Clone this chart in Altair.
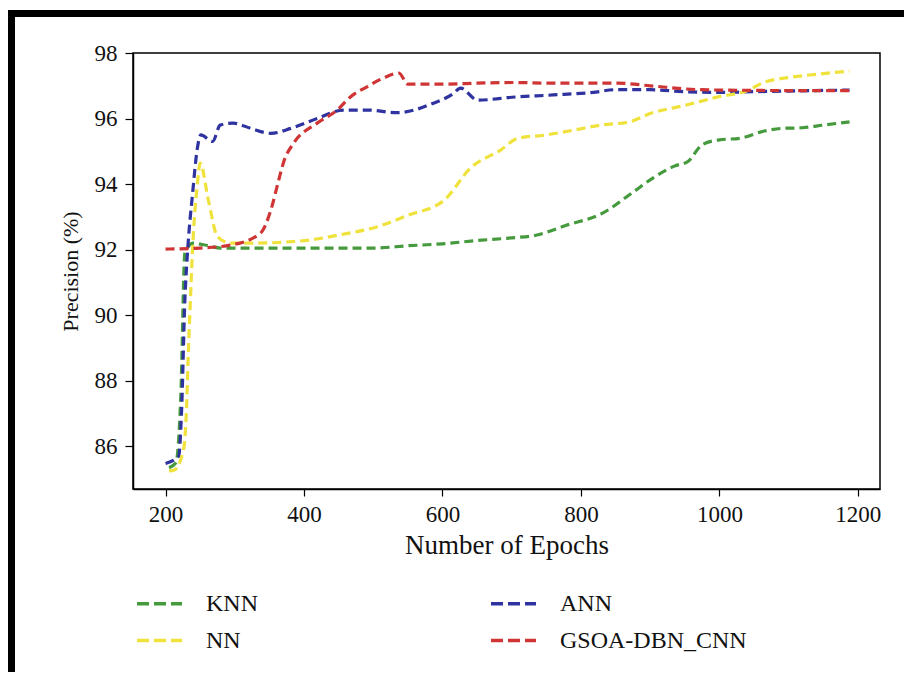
import altair as alt
import pandas as pd

# ---- data ----
knn_x = [205, 215, 222, 228, 240, 255, 280, 300, 350, 400, 450, 500, 550, 600, 650, 700, 735, 780, 830, 875, 905, 935, 955, 975, 1000, 1030, 1065, 1090, 1120, 1150, 1188]
knn_y = [85.35, 85.5, 87.5, 91.9, 92.2, 92.15, 92.05, 92.05, 92.05, 92.05, 92.05, 92.05, 92.12, 92.18, 92.28, 92.36, 92.44, 92.75, 93.1, 93.75, 94.2, 94.55, 94.7, 95.2, 95.35, 95.4, 95.62, 95.7, 95.72, 95.8, 95.9]

ann_x = [200, 219, 223, 228, 232, 239, 246, 251, 268, 279, 298, 323, 352, 381, 419, 457, 491, 535, 587, 615, 626, 651, 700, 760, 818, 850, 900, 950, 1000, 1050, 1100, 1188]
ann_y = [85.48, 85.7, 87.0, 90.5, 92.0, 93.7, 95.1, 95.5, 95.3, 95.8, 95.86, 95.7, 95.55, 95.7, 96.0, 96.26, 96.26, 96.18, 96.47, 96.75, 96.93, 96.56, 96.65, 96.72, 96.8, 96.88, 96.88, 96.82, 96.8, 96.82, 96.84, 96.87]

nn_x = [205, 212, 226, 230, 233, 236, 239, 246, 250, 262, 275, 294, 330, 371, 410, 448, 506, 550, 602, 641, 684, 709, 750, 790, 829, 870, 901, 950, 998, 1040, 1064, 1100, 1140, 1188]
nn_y = [85.25, 85.27, 85.9, 87.0, 88.9, 90.5, 92.0, 94.0, 94.64, 93.5, 92.4, 92.2, 92.2, 92.23, 92.3, 92.44, 92.7, 93.05, 93.5, 94.5, 95.04, 95.4, 95.5, 95.65, 95.8, 95.9, 96.16, 96.4, 96.66, 96.85, 97.1, 97.25, 97.35, 97.45]

gsoa_x = [200, 250, 294, 337, 352, 362, 371, 385, 419, 448, 467, 491, 515, 537, 550, 600, 650, 700, 760, 853, 900, 973, 1050, 1120, 1188]
gsoa_y = [92.02, 92.05, 92.14, 92.5, 93.2, 94.0, 94.7, 95.25, 95.86, 96.26, 96.66, 96.97, 97.24, 97.39, 97.05, 97.05, 97.08, 97.1, 97.08, 97.08, 97.0, 96.88, 96.86, 96.85, 96.85]

# legend is laid out column by column: KNN, NN | ANN, GSOA-DBN_CNN
series = ["KNN", "NN", "ANN", "GSOA-DBN_CNN"]
colors = ["#449a3c", "#f0e23c", "#2f33a0", "#cf3535"]
x_ticks = [200, 400, 600, 800, 1000, 1200]
y_ticks = [86, 88, 90, 92, 94, 96, 98]

rows = []
for name, xs, ys in [("KNN", knn_x, knn_y), ("ANN", ann_x, ann_y),
                     ("NN", nn_x, nn_y), ("GSOA-DBN_CNN", gsoa_x, gsoa_y)]:
    for i, (a, b) in enumerate(zip(xs, ys)):
        rows.append({"Model": name, "Epochs": a, "Precision": b, "order": i})
df = pd.DataFrame(rows)

FONT = "Liberation Serif"

lines = alt.Chart(df).mark_line(strokeWidth=3.2, strokeDash=[9, 5], interpolate="monotone").encode(
    x=alt.X("Epochs:Q", scale=alt.Scale(domain=[153, 1232], nice=False, zero=False),
            axis=alt.Axis(values=x_ticks, format="d", title="Number of Epochs", grid=False,
                          tickSize=7, labelPadding=7, titlePadding=6,
                          labelFontSize=23, titleFontSize=27)),
    y=alt.Y("Precision:Q", scale=alt.Scale(domain=[84.7, 98], nice=False, zero=False),
            axis=alt.Axis(values=y_ticks, title="Precision (%)", grid=False,
                          tickSize=8, labelPadding=8, titlePadding=12,
                          labelFontSize=23, titleFontSize=22)),
    color=alt.Color("Model:N", scale=alt.Scale(domain=series, range=colors),
                    legend=alt.Legend(orient="none", legendX=2, legendY=526, title=None,
                                      columns=2, columnPadding=226, rowPadding=-9,
                                      symbolType="stroke", symbolSize=2025,
                                      symbolStrokeWidth=3.5, symbolDash=[12, 5],
                                      labelFont=FONT, labelFontSize=24, labelOffset=22,
                                      labelLimit=400,
                                      labelColor="#111111", padding=0)),
    order="order:Q",
    detail="Model:N",
)

top_border = alt.Chart().mark_rule(color="black", strokeWidth=7).encode(
    x=alt.value(-126), x2=alt.value(790), y=alt.value(-39.5))
left_border = alt.Chart().mark_rule(color="black", strokeWidth=7).encode(
    x=alt.value(-121.5), y=alt.value(-43), y2=alt.value(640))

chart = alt.layer(lines, top_border, left_border).properties(
    width=747, height=436,
    autosize=alt.AutoSizeParams(type="none"),
    padding={"left": 125, "top": 45, "right": 24, "bottom": 183},
    background="white",
).configure_view(stroke="black", strokeWidth=1.5).configure_axis(
    labelFont=FONT, titleFont=FONT, titleFontWeight="normal",
    domainColor="black", tickColor="black", labelColor="#111111", titleColor="#111111",
    domainWidth=1.5, tickWidth=1.2,
)

chart.save("out.html", embed_options={"renderer": "svg", "actions": False})
